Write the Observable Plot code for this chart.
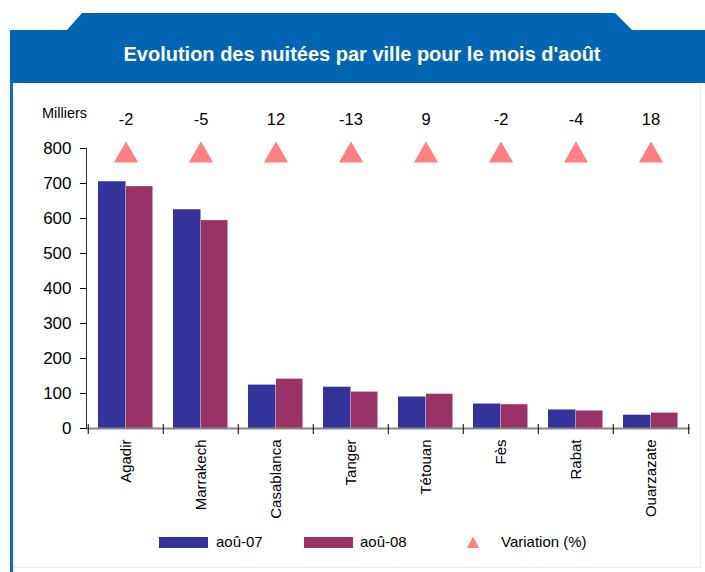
<!DOCTYPE html>
<html>
<head>
<meta charset="utf-8">
<script src="https://cdn.jsdelivr.net/npm/d3@7"></script>
<script src="https://cdn.jsdelivr.net/npm/@observablehq/plot@0.6"></script>
<style>
  body { margin: 0; background: #fff; }
  #wrap { position: relative; width: 705px; height: 572px; overflow: hidden; background: #fff;
          font-family: "Liberation Sans", Arial, sans-serif; color: #000; }
  #band { position: absolute; left: 10px; top: 13px; width: 695px; height: 70px; background: #0066b3;
          clip-path: polygon(0px 17px, 57px 17px, 72px 0px, 605px 0px, 622px 17px, 695px 17px, 695px 70px, 0px 70px); }
  #leftline { position: absolute; left: 10px; top: 83px; width: 3px; height: 489px; background: #0b6fc0; }
  #rightline { position: absolute; left: 700px; top: 83px; width: 1px; height: 484px; background: #ececec; }
  #bottomline { position: absolute; left: 13px; top: 567px; width: 688px; height: 1px; background: #ececec; }
  #title { position: absolute; left: 10px; width: 704px; top: 42px; text-align: center; color: #fff;
           font-weight: bold; font-size: 20px; line-height: 24px; }
  #unit { position: absolute; left: 42px; top: 105px; font-size: 14.5px; }
  #plot { position: absolute; left: 0; top: 95px; }
  .leg { position: absolute; top: 533px; font-size: 15px; line-height: 18px; }
  .sw { position: absolute; top: 537px; width: 49px; height: 11px; }
</style>
</head>
<body>
<div id="wrap">
  <div id="band"></div>
  <div id="leftline"></div>
  <div id="rightline"></div>
  <div id="bottomline"></div>
  <div id="title">Evolution des nuitées par ville pour le mois d'août</div>
  <div id="unit">Milliers</div>
  <div id="plot"></div>
  <div class="sw" style="left:159px;background:#333399"></div>
  <div class="leg" style="left:216px">aoû-07</div>
  <div class="sw" style="left:304px;background:#993366"></div>
  <div class="leg" style="left:360px">aoû-08</div>
  <svg style="position:absolute;left:466px;top:536px" width="14" height="13"><polygon points="7,0.5 13,12 1,12" fill="#ff8080"/></svg>
  <div class="leg" style="left:501px">Variation (%)</div>
</div>
<script>
const cities = ["Agadir", "Marrakech", "Casablanca", "Tanger", "Tétouan", "Fès", "Rabat", "Ouarzazate"];
const aout07 = [705, 625, 124, 118, 90, 70, 53, 38];
const aout08 = [691, 594, 141, 104, 98, 68, 50, 44];
const variation = [-2, -5, 12, -13, 9, -2, -4, 18];
const yTicks = [0, 100, 200, 300, 400, 500, 600, 700, 800];

const data = cities.map((c, i) => ({city: c, v07: aout07[i], v08: aout08[i], varPct: variation[i]}));

const W = 705, H = 435, mL = 86, mR = 15, mT = 53, mB = 102;
const step = (W - mL - mR) / cities.length;

const chart = Plot.plot({
  width: W, height: H,
  marginLeft: mL, marginRight: mR, marginTop: mT, marginBottom: mB,
  style: {fontFamily: "Liberation Sans, Arial, sans-serif", color: "#000", background: "transparent"},
  x: {domain: cities, padding: 0, axis: null},
  y: {domain: [0, 800], axis: null},
  marks: [
    Plot.barY(data, {x: "city", y: "v07", fill: "#333399", insetLeft: 10, insetRight: step - 38}),
    Plot.barY(data, {x: "city", y: "v08", fill: "#993366", insetLeft: 38, insetRight: step - 65}),
    Plot.ruleY([0], {stroke: "#888", strokeWidth: 2}),
    Plot.frame({anchor: "left", stroke: "#333"}),
    Plot.ruleX(cities, {x: d => d, y1: 0, y2: 0, insetTop: -4, insetBottom: -6, dx: -step / 2, stroke: "#000"}),
    Plot.ruleX([cities[cities.length - 1]], {x: d => d, y1: 0, y2: 0, insetTop: -4, insetBottom: -6, dx: step / 2, stroke: "#000"}),
    Plot.axisY({ticks: yTicks, tickSize: 6, tickPadding: 9, fontSize: 17, label: null, stroke: "#000"}),
    Plot.axisX({tickRotate: -90, tickSize: 0, tickPadding: 11, fontSize: 15, label: null}),
    Plot.dot(data, {x: "city", frameAnchor: "top", symbol: "triangle", r: 9, fill: "#ff8080", stroke: null, dy: 7}),
    Plot.text(data, {x: "city", frameAnchor: "top", text: d => String(d.varPct), dy: -35.5, fontSize: 16.5, fill: "#000"})
  ]
});
document.getElementById("plot").appendChild(chart);
</script>
</body>
</html>
